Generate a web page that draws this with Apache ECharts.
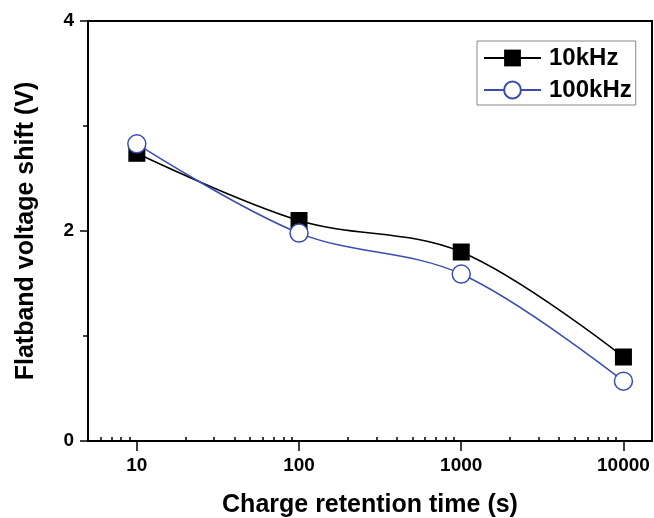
<!DOCTYPE html>
<html>
<head>
<meta charset="utf-8">
<script src="https://cdn.jsdelivr.net/npm/echarts@6/dist/echarts.min.js"></script>
<style>
  html, body { margin: 0; padding: 0; background: #fff; }
  #chart { width: 654px; height: 518px; }
</style>
</head>
<body>
<div id="chart"></div>
<script>
// charge retention time (s), log axis
const times = [10, 100, 1000, 10000];
const shift10k = [2.74, 2.10, 1.80, 0.80];
const shift100k = [2.83, 1.98, 1.59, 0.57];
const xTickLabels = [10, 100, 1000, 10000];
const seriesNames = ["10kHz", "100kHz"];

const xMin = 5;
const xMax = 15000;

// minor ticks 2..9 of every decade (only decoration)
const minorTicks = [];
[1, 10, 100, 1000, 10000].forEach((d) => {
  for (let k = 2; k <= 9; k++) {
    const v = k * d;
    if (v > xMin && v < xMax && xTickLabels.indexOf(v) < 0) minorTicks.push(Math.log10(v));
  }
});

const font = "'Liberation Sans', Arial, sans-serif";

const myChart = echarts.init(document.getElementById("chart"), null, { renderer: "canvas" });
const option = {
  backgroundColor: "#fff",
  animation: false,
  grid: {
    left: 88,
    right: 2,
    top: 21,
    bottom: 77,
    containLabel: false,
    outerBoundsMode: "none",
    show: true,
    borderColor: "#000",
    borderWidth: 2,
  },
  legend: {
    data: seriesNames,
    orient: "vertical",
    left: 477,
    top: 41,
    padding: [5, 4, 3, 6],
    itemWidth: 57,
    itemHeight: 21,
    itemGap: 8,
    borderColor: "#888",
    borderWidth: 1,
    textStyle: {
      fontFamily: font,
      fontWeight: "bold",
      fontSize: 24,
      color: "#000",
      padding: [0, 0, 0, 3],
    },
  },
  xAxis: [
    {
      type: "log",
      min: xMin,
      max: xMax,
      name: "Charge retention time (s)",
      nameLocation: "middle",
      nameGap: 52,
      nameTextStyle: {
        fontFamily: font,
        fontWeight: "bold",
        fontSize: 25,
        color: "#000",
      },
      axisLine: { lineStyle: { color: "#000", width: 2 } },
      axisTick: {
        customValues: xTickLabels,
        length: 10,
        lineStyle: { color: "#000", width: 1.5 },
      },
      axisLabel: {
        customValues: xTickLabels,
        formatter: (v) => String(Math.round(v)),
        margin: 15,
        fontFamily: font,
        fontWeight: "bold",
        fontSize: 19,
        color: "#000",
      },
      splitLine: { show: false },
    },
    {
      // minor tick marks, log10 space
      type: "value",
      position: "bottom",
      min: Math.log10(xMin),
      max: Math.log10(xMax),
      axisLine: { show: false },
      axisTick: {
        customValues: minorTicks,
        inside: true,
        length: 4,
        lineStyle: { color: "#000", width: 1.5 },
      },
      axisLabel: { show: false },
      splitLine: { show: false },
    },
  ],
  yAxis: {
    type: "value",
    min: 0,
    max: 4,
    interval: 2,
    name: "Flatband voltage shift (V)",
    nameLocation: "middle",
    nameGap: 49,
    nameTextStyle: {
      fontFamily: font,
      fontWeight: "bold",
      fontSize: 25,
      color: "#000",
    },
    axisLine: { show: true, lineStyle: { color: "#000", width: 2 } },
    axisTick: { show: true, length: 8, lineStyle: { color: "#000", width: 1.5 } },
    minorTick: { show: true, splitNumber: 2, length: 5, lineStyle: { color: "#000", width: 1.5 } },
    axisLabel: {
      margin: 14,
      fontFamily: font,
      fontWeight: "bold",
      fontSize: 19,
      color: "#000",
    },
    splitLine: { show: false },
  },
  series: [
    {
      name: seriesNames[0],
      type: "line",
      data: times.map((t, i) => [t, shift10k[i]]),
      smooth: 0.35,
      symbol: "rect",
      symbolSize: 17,
      itemStyle: { color: "#000", borderColor: "#000", borderWidth: 0 },
      lineStyle: { color: "#000", width: 1.5 },
      z: 2,
    },
    {
      name: seriesNames[1],
      type: "line",
      data: times.map((t, i) => [t, shift100k[i]]),
      smooth: 0.35,
      symbol: "circle",
      symbolSize: 18,
      itemStyle: { color: "#fff", borderColor: "#3a4cb0", borderWidth: 1.5 },
      lineStyle: { color: "#3a4cb0", width: 1.5 },
      z: 3,
    },
  ],
};
myChart.setOption(option);
</script>
</body>
</html>
